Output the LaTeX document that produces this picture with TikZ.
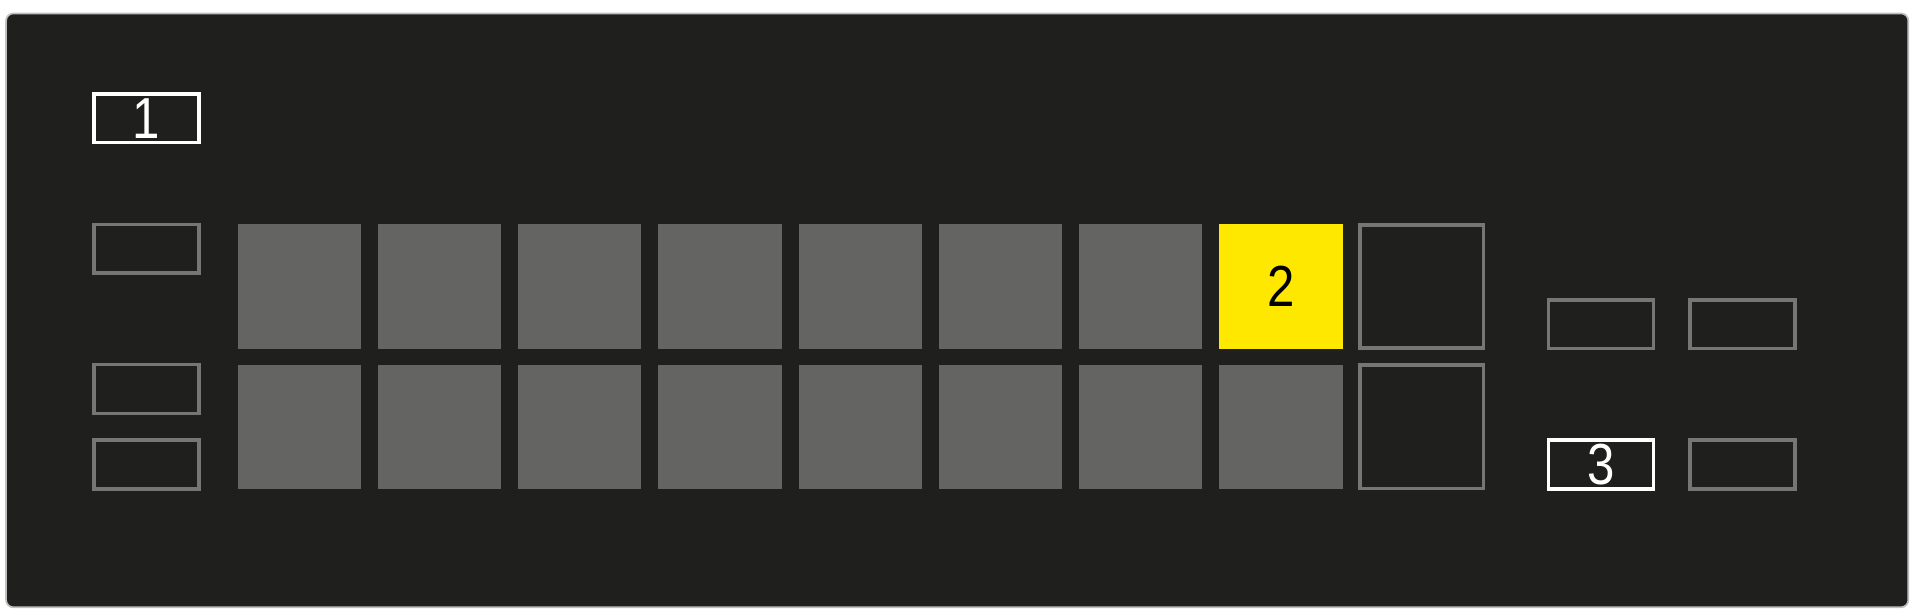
\documentclass[tikz,border=0pt]{standalone}
\usepackage{fontspec}
\setmainfont{Liberation Sans}
\usepackage{tikz}
\usetikzlibrary{shapes}
\definecolor{panelbg}{RGB}{31,31,30}
\definecolor{padgray}{RGB}{100,100,98}
\definecolor{rimgray}{RGB}{118,118,116}
\definecolor{hiyellow}{RGB}{255,232,0}
\tikzstyle{pad}=[rectangle,fill=padgray,minimum width=1.01cm,minimum height=1.02cm,inner sep=0pt]
\tikzstyle{hotpad}=[pad,fill=hiyellow,text=black]
\tikzstyle{emptypad}=[rectangle,draw=rimgray,line width=0.8pt,minimum width=1.01cm,minimum height=1.01cm,inner sep=0pt]
\tikzstyle{btn}=[rectangle,draw=rimgray,line width=0.8pt,minimum width=0.86cm,minimum height=0.40cm,inner sep=0pt]
\tikzstyle{hotbtn}=[btn,draw=white,text=white]

\begin{document}
\begin{tikzpicture}[x=0.01cm,y=-0.01cm,font=\fontsize{13.5}{15}\selectfont]
        \useasboundingbox (0,0) rectangle (1568,505);
        \draw[fill=panelbg,draw=gray!50,rounded corners=0.06cm,line width=0.4pt] (5,11) rectangle (1565,498);
        % left buttons
        \node[hotbtn] (l1) at (120,97) {\scalebox{0.85}[1]{1}};
        \node[btn] (l2) at (120,204) {};
        \node[btn] (l3) at (120,319) {};
        \node[btn] (l4) at (120,381) {};
        % upper row of pads
        \node[pad] (p1) at (245.5,235) {};
        \node[pad] (p2) at (360.5,235) {};
        \node[pad] (p3) at (475.5,235) {};
        \node[pad] (p4) at (590.5,235) {};
        \node[pad] (p5) at (705.5,235) {};
        \node[pad] (p6) at (820.5,235) {};
        \node[pad] (p7) at (935.5,235) {};
        \node[hotpad] (p8) at (1050.5,235) {\scalebox{0.85}[1]{2}};
        \node[emptypad] (q1) at (1166,235) {};
        % lower row of pads
        \node[pad] (p9) at (245.5,350) {};
        \node[pad] (p10) at (360.5,350) {};
        \node[pad] (p11) at (475.5,350) {};
        \node[pad] (p12) at (590.5,350) {};
        \node[pad] (p13) at (705.5,350) {};
        \node[pad] (p14) at (820.5,350) {};
        \node[pad] (p15) at (935.5,350) {};
        \node[pad] (p16) at (1050.5,350) {};
        \node[emptypad] (q2) at (1166,350) {};
        % right buttons
        \node[btn] (r1) at (1313,266) {};
        \node[btn] (r2) at (1429,266) {};
        \node[hotbtn] (r3) at (1313,381) {\scalebox{0.85}[1]{3}};
        \node[btn] (r4) at (1429,381) {};
      \end{tikzpicture}
\end{document}
